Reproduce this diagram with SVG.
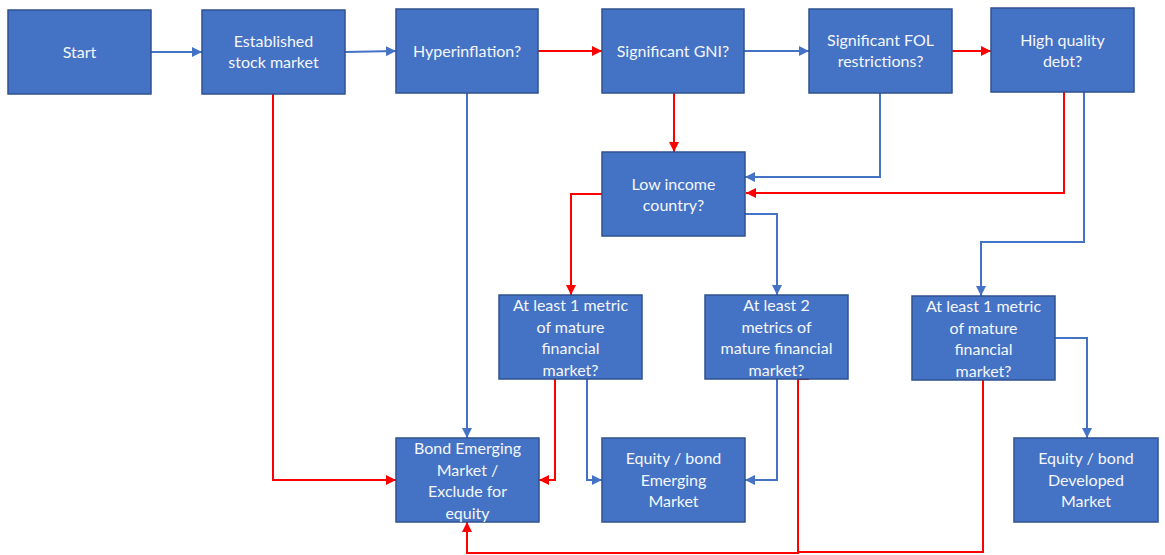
<svg xmlns="http://www.w3.org/2000/svg" width="1165" height="555" viewBox="0 0 1165 555">
<defs>
<style>
.box{fill:#4472C4;stroke:#2F528F;stroke-width:1.5}
.t{font-family:Lato,"Liberation Sans",sans-serif;font-size:16px;fill:#F4F7FC;text-anchor:middle}
.b{fill:none;stroke:#4472C4;stroke-width:2}
.r{fill:none;stroke:#FF0000;stroke-width:2}
</style>
<marker id="ab" viewBox="0 0 10 10" refX="10" refY="5" markerUnits="userSpaceOnUse" markerWidth="10" markerHeight="10" orient="auto"><path d="M0,0 L10,5 L0,10 z" fill="#4472C4"/></marker>
<marker id="ar" viewBox="0 0 10 10" refX="10" refY="5" markerUnits="userSpaceOnUse" markerWidth="10" markerHeight="10" orient="auto"><path d="M0,0 L10,5 L0,10 z" fill="#FF0000"/></marker>
</defs>
<rect width="1165" height="555" fill="#FFFFFF"/>
<g id="connectors">
<path class="b" d="M151,52 H202" marker-end="url(#ab)"/>
<path class="b" d="M345,52 L396,51" marker-end="url(#ab)"/>
<path class="r" d="M273,94 V480 H396" marker-end="url(#ar)"/>
<path class="r" d="M538,51 H602" marker-end="url(#ar)"/>
<path class="b" d="M467,93 V438" marker-end="url(#ab)"/>
<path class="b" d="M744,51 H809" marker-end="url(#ab)"/>
<path class="r" d="M674,93 V152" marker-end="url(#ar)"/>
<path class="r" d="M952,51 H991" marker-end="url(#ar)"/>
<path class="b" d="M880,93 V177 H745" marker-end="url(#ab)"/>
<path class="r" d="M1064,92 V193 H746" marker-end="url(#ar)"/>
<path class="b" d="M1084,92 V242 H981 V296" marker-end="url(#ab)"/>
<path class="r" d="M602,194 H571 V295" marker-end="url(#ar)"/>
<path class="b" d="M745,214 H777 V295" marker-end="url(#ab)"/>
<path class="r" d="M555,379 V480 H539" marker-end="url(#ar)"/>
<path class="b" d="M587,379 V480 H602" marker-end="url(#ab)"/>
<path class="b" d="M777,379 V480 H745" marker-end="url(#ab)"/>
<path class="r" d="M809,379 H798 V553 H467 V522" marker-end="url(#ar)"/>
<path class="r" d="M983,380 V552 H798"/>
<path class="b" d="M1055,338 H1087 V438" marker-end="url(#ab)"/>
</g>
<g id="start"><rect class="box" x="8" y="10" width="143" height="84"/><text class="t" x="79.5" y="58">Start</text></g>
<g id="established"><rect class="box" x="202" y="10" width="143" height="84"/><text class="t" x="273.5" y="47">Established</text><text class="t" x="273.5" y="68">stock market</text></g>
<g id="hyperinflation"><rect class="box" x="396" y="9" width="142" height="84"/><text class="t" x="467" y="57">Hyperinflation?</text></g>
<g id="gni"><rect class="box" x="602" y="9" width="142" height="84"/><text class="t" x="673" y="57">Significant GNI?</text></g>
<g id="fol"><rect class="box" x="809" y="9" width="143" height="84"/><text class="t" x="880.5" y="46">Significant FOL</text><text class="t" x="880.5" y="67">restrictions?</text></g>
<g id="debt"><rect class="box" x="991" y="8" width="143" height="84"/><text class="t" x="1062.5" y="46">High quality</text><text class="t" x="1062.5" y="67">debt?</text></g>
<g id="lowincome"><rect class="box" x="602" y="152" width="143" height="84"/><text class="t" x="673.5" y="190">Low income</text><text class="t" x="673.5" y="211">country?</text></g>
<g id="metric1a"><rect class="box" x="499" y="295" width="143" height="84"/><text class="t" x="570.5" y="311">At least 1 metric</text><text class="t" x="570.5" y="333">of mature</text><text class="t" x="570.5" y="354">financial</text><text class="t" x="570.5" y="376">market?</text></g>
<g id="metric2"><rect class="box" x="705" y="295" width="143" height="84"/><text class="t" x="776.5" y="311">At least 2</text><text class="t" x="776.5" y="333">metrics of</text><text class="t" x="776.5" y="354">mature financial</text><text class="t" x="776.5" y="376">market?</text></g>
<g id="metric1b"><rect class="box" x="912" y="296" width="143" height="84"/><text class="t" x="983.5" y="312">At least 1 metric</text><text class="t" x="983.5" y="334">of mature</text><text class="t" x="983.5" y="355">financial</text><text class="t" x="983.5" y="377">market?</text></g>
<g id="bondem"><rect class="box" x="396" y="438" width="143" height="84"/><text class="t" x="467.5" y="454">Bond Emerging</text><text class="t" x="467.5" y="476">Market /</text><text class="t" x="467.5" y="497">Exclude for</text><text class="t" x="467.5" y="519">equity</text></g>
<g id="eqem"><rect class="box" x="602" y="438" width="143" height="84"/><text class="t" x="673.5" y="464">Equity / bond</text><text class="t" x="673.5" y="486">Emerging</text><text class="t" x="673.5" y="507">Market</text></g>
<g id="eqdev"><rect class="box" x="1014" y="438" width="144" height="84"/><text class="t" x="1086" y="464">Equity / bond</text><text class="t" x="1086" y="486">Developed</text><text class="t" x="1086" y="507">Market</text></g>
</svg>
